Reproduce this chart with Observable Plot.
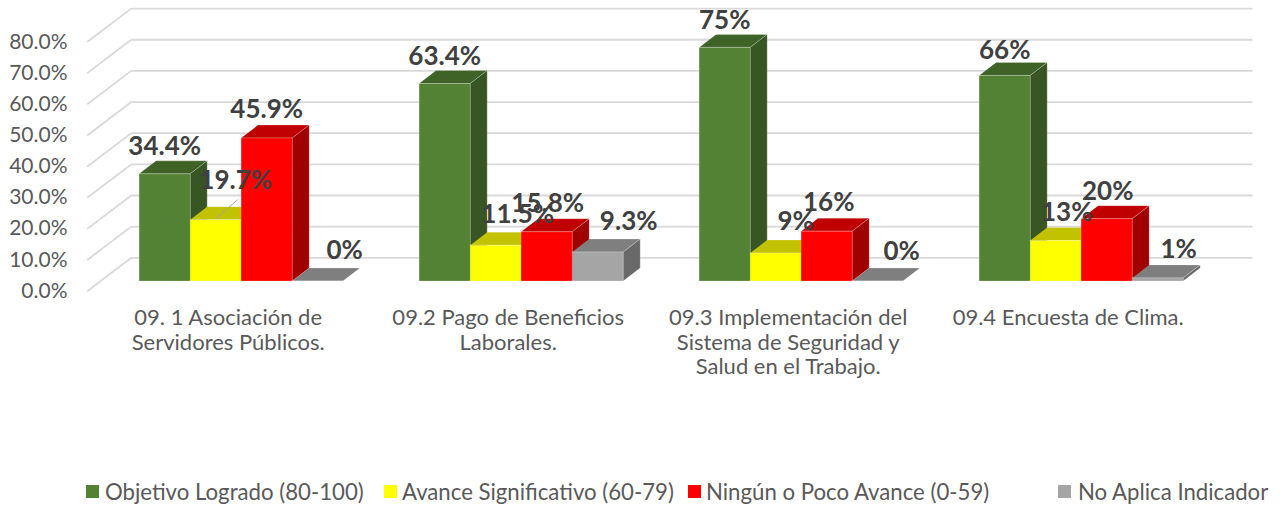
<!DOCTYPE html>
<html>
<head>
<meta charset="utf-8">
<script src="https://cdn.jsdelivr.net/npm/d3@7"></script>
<script src="https://cdn.jsdelivr.net/npm/@observablehq/plot@0.6"></script>
<style>
html,body{margin:0;padding:0;background:#fff;width:1282px;height:506px;overflow:hidden;font-family:Lato,sans-serif}
#chart{position:absolute;left:0;top:0}
#legend{position:absolute;left:0;top:478px;width:1282px;height:28px;font:22.2px Lato,sans-serif;color:#595959}
#legend .s{position:absolute;top:7px;width:13px;height:13px}
#legend .t{position:absolute;top:0;white-space:nowrap}
</style>
</head>
<body>
<div id="chart"></div>
<div id="legend"></div>
<script>
const categories = [
  "09. 1 Asociación de\nServidores Públicos.",
  "09.2 Pago de Beneficios\nLaborales.",
  "09.3 Implementación del\nSistema de Seguridad y\nSalud en el Trabajo.",
  "09.4 Encuesta de Clima."
];
const seriesNames = ["Objetivo Logrado (80-100)","Avance Significativo (60-79)","Ningún o Poco Avance (0-59)","No Aplica Indicador"];
const objetivo = [34.4, 63.4, 75, 66];
const avance   = [19.7, 11.5, 9, 13];
const ninguno  = [45.9, 15.8, 16, 20];
const noAplica = [0, 9.3, 0, 1];
const valueLabels = [
  ["34.4%","63.4%","75%","66%"],
  ["19.7%","11.5%","9%","13%"],
  ["45.9%","15.8%","16%","20%"],
  ["0%","9.3%","0%","1%"]
];
const yTicks = [0,10,20,30,40,50,60,70,80];

// style / geometry constants (1 x unit = one bar width, y unit = percent)
const frontColors = ["#548235","#FFFF00","#FF0000","#A5A5A5"];
const topColors   = ["#3F6326","#C2C200","#C00000","#7F7F7F"];
const sideColors  = ["#375623","#9C9C00","#A00000","#696969"];
const barPx = 51, pctPx = 3.115, originPx = 138.7;
const groupStep = 280 / barPx;
const depthX = 17 / barPx, depthY = 13 / pctPx;
const wallX1 = -8 / barPx, wallX2 = 1113.3 / barPx, floorX = -52 / barPx;
const wallY = 23.2 / pctPx, floorY = -10.2 / pctPx;
// label nudges in px [series][group], relative to bar centre / bar top
const labelDx = [[0,0,0,0],[20,22,20,11],[0,1,2,1],[27,31,24,21]];
const labelDy = [[-27,-27,-27,-25],[-39,-31,-31,-28],[-28,-28,-28,-27],[-30,-30,-29,-28]];

const seriesValues = [objetivo, avance, ninguno, noAplica];
const bars = [];
categories.forEach((c,g) => seriesValues.forEach((vals,s) => {
  bars.push({g, s, v: vals[g], x0: g*groupStep + s, label: valueLabels[s][g]});
}));
const faces = bars.flatMap((b,i) => {
  const l=b.x0, r=b.x0+1, t=b.v;
  const poly=(name,fill,pts)=>pts.map(p=>({face:i+name,fill,x:p[0],y:p[1]}));
  return [
    ...poly("top",topColors[b.s],[[l,t],[r,t],[r+depthX,t+depthY],[l+depthX,t+depthY]]),
    ...poly("side",sideColors[b.s],[[r,0],[r+depthX,depthY],[r+depthX,t+depthY],[r,t]]),
    ...poly("front",frontColors[b.s],[[l,0],[r,0],[r,t],[l,t]])
  ];
});

const plot = Plot.plot({
  width:1282, height:465,
  marginLeft:67, marginRight:0, marginTop:0, marginBottom:0,
  style:{background:"transparent", fontFamily:"Lato, sans-serif", overflow:"visible"},
  color:{type:"identity"},
  x:{domain:[-2,22], range:[originPx-2*barPx,originPx+22*barPx], axis:null},
  y:{domain:[0,80], range:[280.5,280.5-80*pctPx]},
  marks:[
    Plot.link(yTicks,{x1:floorX,x2:wallX1,y1:d=>d+floorY,y2:d=>d+wallY,stroke:"#D9D9D9",strokeWidth:1.8}),
    Plot.link(yTicks,{x1:wallX1,x2:wallX2,y1:d=>d+wallY,y2:d=>d+wallY,stroke:"#D9D9D9",strokeWidth:1.8}),
    Plot.axisY({ticks:yTicks,tickSize:0,tickPadding:0,label:null,dy:10,fontSize:21,
      tickFormat:d=>d.toFixed(1)+"%",fill:"#595959"}),
    Plot.line(faces,{x:"x",y:"y",z:"face",fill:"fill",stroke:"#fff",strokeOpacity:0.22,strokeWidth:1}),
    Plot.link(bars.filter(b=>b.s===1&&b.g===0),{
      x1:b=>b.x0+0.5,y1:b=>b.v+0.3,x2:b=>b.x0+0.5+22/barPx,y2:b=>b.v+6.4,stroke:"#A6A6A6",strokeWidth:1}),
    Plot.text(bars,{
      x:b=>b.x0+0.5+labelDx[b.s][b.g]/barPx,
      y:b=>b.v-labelDy[b.s][b.g]/pctPx,
      text:"label",fontSize:26,fontWeight:700,fill:"#404040"}),
    Plot.text(categories,{
      x:(d,i)=>i*groupStep+89/barPx,
      y:()=>0,dy:27,text:d=>d,lineAnchor:"top",lineHeight:1.11,fontSize:22,fill:"#595959"})
  ]
});
document.getElementById("chart").appendChild(plot);

const swatchX=[86,384,688,1058], textX=[105,402,706,1078];
const legend=document.getElementById("legend");
seriesNames.forEach((n,i)=>{
  const s=document.createElement("span");s.className="s";s.style.left=swatchX[i]+"px";s.style.background=frontColors[i];legend.appendChild(s);
  const t=document.createElement("span");t.className="t";t.style.left=textX[i]+"px";t.textContent=n;legend.appendChild(t);
});
</script>
</body>
</html>
